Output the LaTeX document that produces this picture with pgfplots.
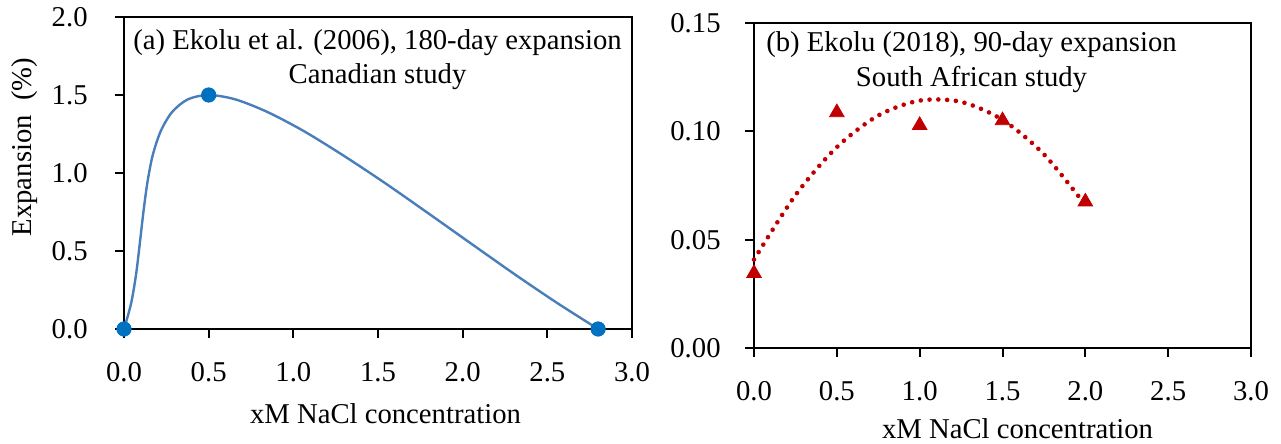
\documentclass[border=0pt]{standalone}
\usepackage{fontspec}
\setmainfont{Liberation Serif}
\usepackage{pgfplots}
\pgfplotsset{compat=1.18}

\definecolor{lineblue}{HTML}{4A7EBB}
\definecolor{markblue}{HTML}{0070C0}
\definecolor{darkred}{HTML}{C00000}
\newcommand\cf{\fontsize{14.4}{17.3}\selectfont}

\pgfplotsset{
  panel/.style={
    scale only axis,
    anchor=south west,
    axis line style={line width=1bp},
    tick pos=left,
    tick align=outside,
    major tick length=4.5bp,
    every tick/.style={black, line width=1bp},
    xmin=0, xmax=3, xtick={0,0.5,...,3.0},
    tick label style={font=\cf},
    /pgf/number format/assume math mode=true,
    xticklabel style={anchor=base, inner sep=0pt, yshift=-21.5bp,
      /pgf/number format/.cd, fixed, fixed zerofill, precision=1},
    clip=false,
  }
}

\begin{document}
\begin{tikzpicture}
% (a) Canadian study
\begin{axis}[panel,
    at={(62bp,57.5bp)}, width=254bp, height=156bp,
    ymin=0, ymax=2, ytick={0,0.5,...,2.0},
    yticklabel style={anchor=east, inner sep=0pt, xshift=-13.5bp,
      /pgf/number format/.cd, fixed, fixed zerofill, precision=1},
]
% smoothed line as drawn in the figure
\addplot[lineblue, line width=1.2bp, smooth, tension=0.5] coordinates {
    (0,0) (0.042,0.164) (0.071,0.348) (0.093,0.545) (0.114,0.744)
    (0.138,0.938) (0.170,1.116) (0.218,1.271) (0.285,1.392) (0.377,1.472)
    (0.5,1.5) (0.657,1.472) (0.845,1.392) (1.058,1.271) (1.290,1.116)
    (1.538,0.938) (1.794,0.744) (2.053,0.545) (2.311,0.348) (2.562,0.164)
    (2.8,0)};
\addplot[only marks, mark=*, mark size=3.6bp, mark options={draw=markblue, fill=markblue}]
    coordinates {(0,0) (0.5,1.5) (2.8,0)};
\end{axis}

% (b) South African study
\begin{axis}[panel,
    at={(377bp,48bp)}, width=248.5bp, height=162.5bp,
    ymin=0, ymax=0.15, ytick={0,0.05,0.10,0.15},
    yticklabel style={anchor=east, inner sep=0pt, xshift=-12bp,
      /pgf/number format/.cd, fixed, fixed zerofill, precision=2},
]
% polynomial trendline
\addplot[darkred, line width=2.3bp, line cap=round, dash pattern=on 0bp off 4.4bp, smooth]
    coordinates {(0,0.0408) (0.25,0.0705) (0.5,0.0927) (0.75,0.1073) (1.0,0.1142)
                 (1.25,0.1136) (1.5,0.1053) (1.75,0.0894) (2.0,0.0660)};
\addplot[only marks, mark=triangle*, mark size=4.2bp, darkred]
    coordinates {(0,0.0345) (0.5,0.1087) (1.0,0.1028) (1.5,0.105) (2.0,0.0675)};
\end{axis}

\node[rotate=90, font=\cf] at (12.5bp,148.5bp) {Expansion\ \ (\%)};
\node[anchor=base, font=\cf] at (192.75bp,10.5bp) {xM NaCl concentration};
\node[anchor=base, font=\cf] at (508.75bp,3bp) {xM NaCl concentration};

\node[anchor=base, font=\cf] at (188.75bp,197bp) {(a) Ekolu et al. (2006), 180-day expansion};
\node[anchor=base, font=\cf] at (188.75bp,180.35bp) {Canadian study};
\node[anchor=base, font=\cf] at (485.75bp,196bp) {(b) Ekolu (2018), 90-day expansion};
\node[anchor=base, font=\cf] at (485.75bp,178.65bp) {South African study};

\pgfresetboundingbox
\path[use as bounding box] (0,0) rectangle (640.5bp,222bp);
\end{tikzpicture}
\end{document}
